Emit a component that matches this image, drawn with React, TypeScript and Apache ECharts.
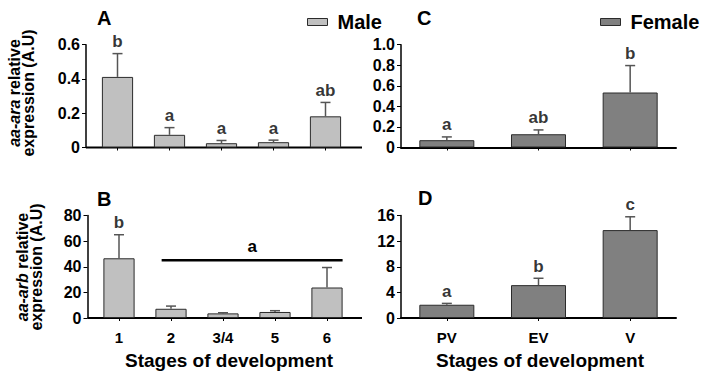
import React, { useEffect, useRef } from "react";
import * as echarts from "echarts";

const FONT = '"Liberation Sans", Arial, Helvetica, sans-serif';

// Categories
const maleStages = ["1", "2", "3/4", "5", "6"];
const femaleStages = ["PV", "EV", "V"];

// Panel A: aa-ara, male
const araMale = [0.412, 0.074, 0.025, 0.031, 0.182];
const araMaleSE = [0.136, 0.042, 0.016, 0.012, 0.081];
const araMaleLetters = ["b", "a", "a", "a", "ab"];

// Panel B: aa-arb, male
const arbMale = [46.6, 7.2, 3.6, 4.7, 23.8];
const arbMaleSE = [18.4, 2.1, 0.5, 1.0, 15.6];
const arbMaleLetters = ["b", "", "", "", ""];
// group bracket: from stage index 1 to 4 at value 45, letter "a"
const arbGroupLine = [[1, 4, 45]];
const arbGroupLetter = "a";

// Panel C: aa-ara, female
const araFemale = [0.071, 0.129, 0.535];
const araFemaleSE = [0.032, 0.042, 0.262];
const araFemaleLetters = ["a", "ab", "b"];

// Panel D: aa-arb, female
const arbFemale = [2.07, 5.13, 13.72];
const arbFemaleSE = [0.21, 1.07, 2.08];
const arbFemaleLetters = ["a", "b", "c"];

const MALE_COLOR = "#c0c0c0";
const FEMALE_COLOR = "#808080";
const BORDER = "#2b2b2b";
const ERR_COLOR = "#555555";

function dec1(v: number) {
  return v === 0 ? "0" : v.toFixed(1);
}

function xAxis(gridIndex: number, cats: string[], showLine: boolean, showLabels: boolean) {
  return {
    type: "category",
    gridIndex,
    data: cats,
    axisLine: { show: showLine, lineStyle: { color: "#000", width: 2 } },
    axisTick: { show: true, alignWithLabel: true, length: 3, lineStyle: { color: "#000", width: 1 } },
    axisLabel: {
      show: showLabels,
      color: "#000",
      fontFamily: FONT,
      fontWeight: "bold",
      fontSize: 15,
      margin: 12,
    },
    name: showLabels ? "Stages of development" : "",
    nameLocation: "middle",
    nameGap: 33,
    nameTextStyle: {
      color: "#000",
      fontFamily: FONT,
      fontWeight: "bold",
      fontSize: 19,
      padding: gridIndex === 1 ? [0, 0, 0, 12] : [0, 0, 0, 3],
    },
    splitLine: { show: false },
  };
}

function yAxis(gridIndex: number, max: number, interval: number, offset: number, fmt: (v: number) => string) {
  return {
    type: "value",
    gridIndex,
    min: 0,
    max,
    interval,
    offset,
    axisLine: { show: true, lineStyle: { color: "#000", width: 1.5 } },
    axisTick: { show: true, length: 4, lineStyle: { color: "#000", width: 1 } },
    axisLabel: {
      color: "#000",
      fontFamily: FONT,
      fontWeight: "bold",
      fontSize: 16,
      margin: 6,
      formatter: fmt,
    },
    splitLine: { show: false },
  };
}

function barSeries(name: string, idx: number, data: number[], color: string) {
  return {
    type: "bar",
    name,
    xAxisIndex: idx,
    yAxisIndex: idx,
    data,
    barWidth: "60%",
    itemStyle: { color, borderColor: BORDER, borderWidth: 1 },
    silent: true,
  };
}

function errSeries(idx: number, vals: number[], se: number[]) {
  return {
    type: "custom",
    xAxisIndex: idx,
    yAxisIndex: idx,
    silent: true,
    z: 3,
    encode: { x: 0, y: [1, 2] },
    data: vals.map((v, i) => [i, v, v + se[i]]),
    renderItem: (_p: any, api: any) => {
      const i = api.value(0);
      const p0 = api.coord([i, api.value(1)]);
      const p1 = api.coord([i, api.value(2)]);
      return {
        type: "group",
        children: [
          { type: "line", shape: { x1: p0[0], y1: p0[1], x2: p1[0], y2: p1[1] }, style: { stroke: ERR_COLOR, lineWidth: 1.5 } },
          { type: "line", shape: { x1: p1[0] - 5, y1: p1[1], x2: p1[0] + 5, y2: p1[1] }, style: { stroke: ERR_COLOR, lineWidth: 1.5 } },
        ],
      };
    },
  };
}

function letterSeries(idx: number, vals: number[], se: number[], letters: string[]) {
  return {
    type: "scatter",
    xAxisIndex: idx,
    yAxisIndex: idx,
    silent: true,
    symbol: "circle",
    symbolSize: 1,
    itemStyle: { color: "transparent" },
    data: vals.map((v, i) => [i, v + se[i]]),
    label: {
      show: true,
      position: "top",
      distance: 3,
      color: "#000",
      fontFamily: FONT,
      fontWeight: "bold",
      fontSize: 17,
      formatter: (p: any) => letters[p.dataIndex],
    },
  };
}

function yTitle(gene: string, x: number, y: number) {
  return {
    type: "text",
    x,
    y,
    rotation: Math.PI / 2,
    style: {
      text: `{i|${gene}} relative\nexpression (A.U)`,
      fill: "#000",
      fontFamily: FONT,
      fontWeight: "bold",
      fontSize: 16,
      lineHeight: 14,
      align: "center",
      verticalAlign: "middle",
      rich: {
        i: { fontStyle: "italic", fontWeight: "bold", fontFamily: FONT, fontSize: 16, lineHeight: 14, fill: "#000" },
      },
    },
  };
}

function panelLetter(t: string, x: number, y: number) {
  return {
    type: "text",
    x,
    y,
    style: { text: t, fill: "#000", font: `bold 20px ${FONT}`, align: "left", verticalAlign: "middle" },
  };
}

export default function App() {
  const ref = useRef<HTMLDivElement>(null);

  useEffect(() => {
    if (!ref.current) return;
    const chart = echarts.init(ref.current, undefined, { renderer: "svg" });

    const legendCommon = {
      icon: "rect",
      itemWidth: 20,
      itemHeight: 7,
      top: 7,
      itemStyle: { borderColor: BORDER, borderWidth: 1 },
      textStyle: { color: "#000", fontFamily: FONT, fontWeight: "bold", fontSize: 20, padding: [0, 0, 0, 5] },
      selectedMode: false,
    };

    const option: any = {
      animation: false,
      backgroundColor: "#fff",
      legend: [
        { ...legendCommon, data: ["Male"], left: 302 },
        { ...legendCommon, data: ["Female"], left: 595 },
      ],
      grid: [
        { left: 91.5, top: 44.7, width: 260, height: 102.8 },
        { left: 93, top: 215.5, width: 260, height: 102.5 },
        { left: 401, top: 44.7, width: 275, height: 102.8 },
        { left: 401, top: 215.5, width: 275, height: 102.5 },
      ],
      xAxis: [
        xAxis(0, maleStages, false, false),
        xAxis(1, maleStages, false, true),
        xAxis(2, femaleStages, true, false),
        xAxis(3, femaleStages, true, true),
      ],
      yAxis: [
        yAxis(0, 0.6, 0.2, 5.5, dec1),
        yAxis(1, 80, 20, 5.5, (v: number) => String(v)),
        yAxis(2, 1.0, 0.2, 0, dec1),
        yAxis(3, 16, 4, 0, (v: number) => String(v)),
      ],
      graphic: [
        { type: "line", shape: { x1: 86, y1: 147.5, x2: 362, y2: 147.5 }, style: { stroke: "#000", lineWidth: 2 } },
        { type: "line", shape: { x1: 87.5, y1: 318, x2: 362, y2: 318 }, style: { stroke: "#000", lineWidth: 2 } },
        panelLetter("A", 97, 18),
        panelLetter("B", 97, 199),
        panelLetter("C", 417, 18),
        panelLetter("D", 418, 198),
        yTitle("aa-ara", 21, 93),
        yTitle("aa-arb", 29, 267),
      ],
      series: [
        barSeries("Male", 0, araMale, MALE_COLOR),
        errSeries(0, araMale, araMaleSE),
        letterSeries(0, araMale, araMaleSE, araMaleLetters),

        barSeries("Male", 1, arbMale, MALE_COLOR),
        errSeries(1, arbMale, arbMaleSE),
        letterSeries(1, arbMale, arbMaleSE, arbMaleLetters),
        {
          type: "custom",
          xAxisIndex: 1,
          yAxisIndex: 1,
          silent: true,
          z: 4,
          encode: { x: [0, 1], y: 2 },
          data: arbGroupLine,
          renderItem: (_p: any, api: any) => {
            const v = api.value(2);
            const pa = api.coord([api.value(0), v]);
            const pb = api.coord([api.value(1), v]);
            const band = api.size([1, 0])[0];
            const x1 = pa[0] - 0.18 * band;
            const x2 = pb[0] + 0.3 * band;
            return {
              type: "group",
              children: [
                { type: "line", shape: { x1, y1: pa[1], x2, y2: pa[1] }, style: { stroke: "#000", lineWidth: 2.5 } },
                {
                  type: "text",
                  x: (x1 + x2) / 2,
                  y: pa[1] - 5,
                  style: { text: arbGroupLetter, fill: "#000", font: `bold 17px ${FONT}`, align: "center", verticalAlign: "bottom" },
                },
              ],
            };
          },
        },

        barSeries("Female", 2, araFemale, FEMALE_COLOR),
        errSeries(2, araFemale, araFemaleSE),
        letterSeries(2, araFemale, araFemaleSE, araFemaleLetters),

        barSeries("Female", 3, arbFemale, FEMALE_COLOR),
        errSeries(3, arbFemale, arbFemaleSE),
        letterSeries(3, arbFemale, arbFemaleSE, arbFemaleLetters),
      ],
    };

    chart.setOption(option);
    return () => chart.dispose();
  }, []);

  return (
    <div
      ref={ref}
      style={{ position: "fixed", left: 0, top: 0, width: 704, height: 380, background: "#fff" }}
    />
  );
}
